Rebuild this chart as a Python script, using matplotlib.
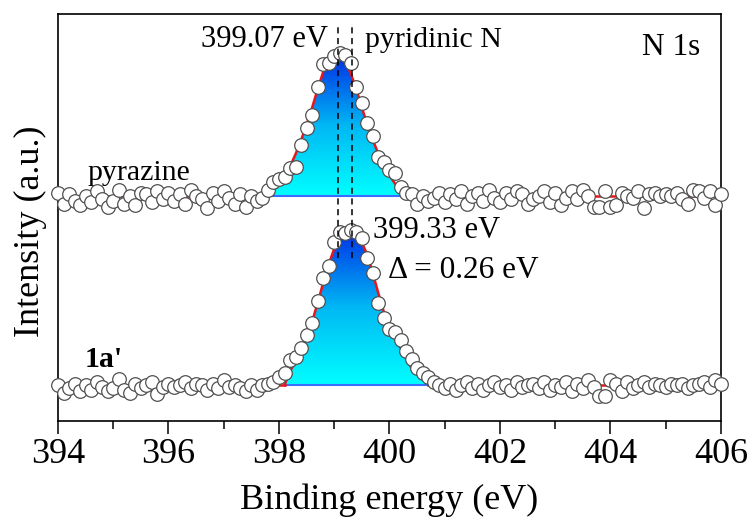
import matplotlib
matplotlib.use("Agg")
import matplotlib.pyplot as plt
import numpy as np
from matplotlib.colors import LinearSegmentedColormap
from matplotlib.ticker import MultipleLocator

plt.rcParams['font.family'] = ['Liberation Serif', 'DejaVu Serif']

# binding energy grid (eV), 0.1 eV steps from 394 to 406
energy = np.linspace(394.0, 406.0, 121)

# pyrazine spectrum (arb. units, baseline removed)
pyrazine = [
    0.02, -0.05, 0.01, -0.03, -0.06, 0.00, -0.04, 0.03, -0.02, -0.07,
    -0.03, 0.04, -0.05, 0.00, -0.06, 0.02, 0.01, -0.04, 0.03, -0.02,
    0.02, -0.03, 0.01, -0.05, 0.04, 0.00, -0.02, -0.08, 0.02, -0.03,
    0.03, -0.01, -0.05, 0.01, -0.07, 0.00, -0.03, -0.01, 0.04, 0.09,
    0.11, 0.12, 0.18, 0.19, 0.33, 0.44, 0.52, 0.70, 0.85, 0.86,
    0.90, 0.92, 0.91, 0.86, 0.70, 0.60, 0.47, 0.39, 0.25, 0.22,
    0.17, 0.15, 0.06, 0.02, 0.01, -0.05, 0.00, -0.03, -0.01, 0.02,
    -0.04, 0.01, -0.02, 0.03, -0.05, 0.00, 0.02, -0.03, 0.04, -0.01,
    -0.04, 0.02, -0.02, 0.03, 0.01, -0.05, -0.02, 0.00, 0.03, -0.04,
    0.02, -0.06, -0.01, 0.03, -0.02, 0.04, 0.00, -0.07, -0.07, 0.03,
    -0.07, -0.06, 0.02, 0.00, -0.01, 0.03, -0.08, 0.01, 0.02, 0.00,
    0.01, 0.00, 0.02, -0.02, -0.05, 0.04, 0.03, -0.01, 0.03, -0.06,
    0.01,
]

# 1a' spectrum
sample_1a = [
    0.00, -0.05, -0.02, 0.01, -0.04, 0.00, -0.03, 0.02, -0.01, -0.04,
    -0.02, 0.04, -0.03, -0.05, 0.01, -0.02, 0.00, 0.02, -0.06, -0.01,
    0.01, -0.01, 0.00, 0.02, -0.02, 0.01, 0.00, -0.03, 0.01, -0.02,
    0.03, -0.01, 0.00, -0.02, -0.04, 0.00, -0.03, 0.00, 0.01, 0.02,
    0.05, 0.08, 0.16, 0.18, 0.24, 0.32, 0.40, 0.54, 0.69, 0.77,
    0.92, 0.99, 0.98, 1.00, 0.99, 0.95, 0.82, 0.72, 0.53, 0.43,
    0.36, 0.34, 0.29, 0.22, 0.17, 0.11, 0.08, 0.05, 0.02, 0.00,
    -0.02, 0.01, -0.03, 0.00, 0.02, -0.02, 0.01, -0.03, 0.00, 0.02,
    -0.01, 0.00, -0.03, 0.02, -0.01, 0.00, 0.01, -0.02, 0.02, -0.03,
    0.00, -0.01, 0.02, -0.04, 0.01, -0.02, 0.03, -0.01, -0.07, -0.07,
    0.03, 0.01, -0.04, 0.02, -0.02, 0.00, 0.02, -0.01, 0.01, 0.00,
    -0.01, 0.01, 0.00, 0.01, -0.02, 0.00, 0.01, 0.02, -0.01, 0.03,
    0.01,
]

# fitted pyridinic N components
fit_pyr_x = np.linspace(397.8, 400.3, 26)
fit_pyr = [0.00, 0.04, 0.08, 0.13, 0.19, 0.27, 0.36, 0.46, 0.57, 0.69,
           0.80, 0.87, 0.90, 0.90, 0.86, 0.79, 0.69, 0.57, 0.46, 0.36,
           0.27, 0.19, 0.13, 0.08, 0.04, 0.00]
fit_1a_x = np.linspace(398.1, 400.7, 27)
fit_1a = [0.00, 0.09, 0.15, 0.23, 0.31, 0.41, 0.53, 0.66, 0.78, 0.88,
          0.95, 0.99, 1.00, 0.98, 0.92, 0.84, 0.72, 0.59, 0.47, 0.38,
          0.31, 0.24, 0.17, 0.11, 0.07, 0.04, 0.01]

peak_pyr = 399.07
peak_1a = 399.33
offset_pyr = 1.22

cmap = LinearSegmentedColormap.from_list('peak', ['#00ffff', '#00b8f4', '#0030e6'])

fig = plt.figure(figsize=(7.53, 5.23), dpi=100)
ax = fig.add_axes([0.077, 0.195, 0.8805, 0.7782])


def draw_spectrum(y, fx, fy, off):
    y = np.asarray(y) + off
    fy = np.asarray(fy) + off
    # gradient filled peak
    poly = ax.fill_between(fx, off, fy, color='none', lw=0)
    grad = np.linspace(0, 1, 256).reshape(-1, 1)
    im = ax.imshow(grad, cmap=cmap, origin='lower', aspect='auto',
                   extent=[fx[0], fx[-1], off, fy.max()], zorder=1)
    im.set_clip_path(poly.get_paths()[0], transform=ax.transData)
    ax.plot(fx, np.full(len(fx), off), color='#3a6cff', lw=1.5, zorder=2)
    # red fit line, flat on the baseline outside the peak
    ax.plot([energy[0], fx[0]], [off, off], color='#e8161b', lw=1.8, zorder=3)
    ax.plot(fx, fy, color='#e8161b', lw=1.8, zorder=3)
    ax.plot([fx[-1], energy[-1]], [off, off], color='#e8161b', lw=1.8, zorder=3)
    ax.plot(energy, y, 'o', ms=9.8, mfc='white', mec='#505050', mew=0.9,
            zorder=4, clip_on=False)


draw_spectrum(pyrazine, fit_pyr_x, fit_pyr, offset_pyr)
draw_spectrum(sample_1a, fit_1a_x, fit_1a, 0.0)

ax.vlines([peak_pyr, peak_1a], 0.82, 2.32, colors='black', linestyles=(0, (4, 3)),
          lw=1.1, zorder=5)

ax.text(398.89, 2.18, '399.07 eV', fontsize=22, ha='right', va='baseline')
ax.text(399.56, 2.18, 'pyridinic N', fontsize=21.5, ha='left', va='baseline')
ax.text(405.62, 2.13, 'N 1s', fontsize=22.5, ha='right', va='baseline')
ax.text(394.54, 1.32, 'pyrazine', fontsize=21.5, ha='left', va='baseline')
ax.text(399.70, 0.95, '399.33 eV', fontsize=22, ha='left', va='baseline')
ax.text(399.98, 0.69, '\u0394 = 0.26 eV', fontsize=22.5, ha='left', va='baseline')
ax.text(394.49, 0.116, "1a'", fontsize=21.5, fontweight='bold', ha='left', va='baseline')

ax.set_xlim(394, 406)
ax.set_ylim(-0.232, 2.394)
ax.xaxis.set_major_locator(MultipleLocator(2))
ax.xaxis.set_minor_locator(MultipleLocator(1))
ax.tick_params(axis='x', which='major', direction='out', length=9, width=1.1,
               labelsize=26, pad=3)
ax.tick_params(axis='x', which='minor', direction='out', length=6, width=1.1)
ax.set_yticks([])
for s in ax.spines.values():
    s.set_linewidth(1.2)

ax.set_xlabel('Binding energy (eV)', fontsize=26, va='center')
ax.xaxis.set_label_coords(0.5, -0.194)
ax.set_ylabel('Intensity (a.u.)', fontsize=26, va='center')
ax.yaxis.set_label_coords(-0.042, 0.467)

fig.savefig('out.png', dpi=100)
